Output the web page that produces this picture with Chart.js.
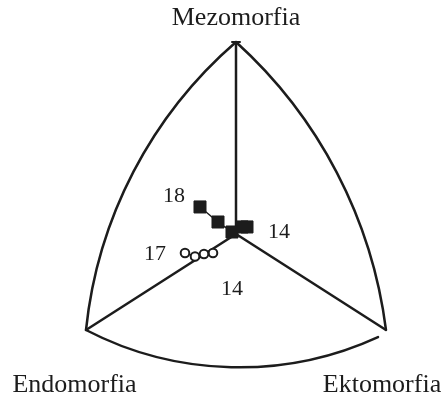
<!DOCTYPE html>
<html>
<head>
<meta charset="utf-8">
<script src="https://cdn.jsdelivr.net/npm/chart.js@4/dist/chart.umd.min.js"></script>
<style>
  html, body { margin: 0; padding: 0; background: #fff; }
  #wrap { width: 445px; height: 397px; position: relative; }
</style>
</head>
<body>
<div id="wrap"><canvas id="c"></canvas></div>
<script>
// Somatochart coordinates: X = ecto - endo, Y = 2*meso - (endo + ecto)
const axisNames = ['Mezomorfia', 'Endomorfia', 'Ektomorfia'];
const vertexMeso = { x: 0, y: 12 };
const vertexEndo = { x: -6, y: -6 };
const vertexEcto = { x: 6, y: -6 };
const origin = { x: 0, y: 0 };

// Series: squares (ages 14..18), circles (ages 14..17)
const squareAges = [14, 15, 16, 17, 18];
const squareX = [0.44, 0.24, -0.16, -0.72, -1.44];
const squareY = [0.44, 0.44, 0.125, 0.75, 1.69];

const circleAges = [14, 15, 16, 17];
const circleX = [-0.92, -1.28, -1.64, -2.04];
const circleY = [-1.19, -1.25, -1.41, -1.19];

// Boundary arcs: start, middle, end
const arcLeft = [vertexMeso, { x: -4.64, y: 2.125 }, vertexEndo];
const arcRight = [vertexMeso, { x: 4.56, y: 2.125 }, vertexEcto];
const arcBottom = [vertexEndo, { x: -0.52, y: -8.31 }, { x: 5.68, y: -6.44 }];

const toPts = (xs, ys) => xs.map((x, i) => ({ x, y: ys[i] }));

const INK = '#1c1c1c';
const FONT = '"Liberation Serif", "DejaVu Serif", serif';

function circleThrough(p1, p2, p3) {
  const ax = p1.x, ay = p1.y, bx = p2.x, by = p2.y, cx = p3.x, cy = p3.y;
  const d = 2 * (ax * (by - cy) + bx * (cy - ay) + cx * (ay - by));
  const a2 = ax * ax + ay * ay, b2 = bx * bx + by * by, c2 = cx * cx + cy * cy;
  const ux = (a2 * (by - cy) + b2 * (cy - ay) + c2 * (ay - by)) / d;
  const uy = (a2 * (cx - bx) + b2 * (ax - cx) + c2 * (bx - ax)) / d;
  return { x: ux, y: uy, r: Math.hypot(ax - ux, ay - uy) };
}
const norm = a => ((a % (2 * Math.PI)) + 2 * Math.PI) % (2 * Math.PI);

const framePlugin = {
  id: 'frame',
  beforeDatasetsDraw(chart) {
    const { ctx, scales: { x, y } } = chart;
    const px = p => ({ x: x.getPixelForValue(p.x), y: y.getPixelForValue(p.y) });
    ctx.save();
    ctx.strokeStyle = INK;
    ctx.lineWidth = 2.5;
    ctx.lineCap = 'round';
    [arcLeft, arcRight, arcBottom].forEach(arc => {
      const [p1, p2, p3] = arc.map(px);
      const c = circleThrough(p1, p2, p3);
      const a1 = Math.atan2(p1.y - c.y, p1.x - c.x);
      const am = Math.atan2(p2.y - c.y, p2.x - c.x);
      const a3 = Math.atan2(p3.y - c.y, p3.x - c.x);
      const anti = !(norm(am - a1) < norm(a3 - a1));
      ctx.beginPath();
      ctx.arc(c.x, c.y, c.r, a1, a3, anti);
      ctx.stroke();
    });
    // small cap at the top vertex
    const t = px(vertexMeso);
    ctx.lineWidth = 2;
    ctx.beginPath();
    ctx.moveTo(t.x - 4, t.y);
    ctx.lineTo(t.x + 4, t.y);
    ctx.stroke();
    ctx.restore();
  },
  afterDraw(chart) {
    const { ctx, scales: { x, y } } = chart;
    const px = p => ({ x: x.getPixelForValue(p.x), y: y.getPixelForValue(p.y) });
    ctx.save();
    ctx.fillStyle = INK;
    ctx.textAlign = 'center';
    ctx.textBaseline = 'alphabetic';
    ctx.font = '26px ' + FONT;
    const m = px(vertexMeso), en = px(vertexEndo), ek = px(vertexEcto);
    ctx.fillText(axisNames[0], m.x, m.y - 17);
    ctx.fillText(axisNames[1], en.x - 11.5, en.y + 62);
    ctx.fillText(axisNames[2], ek.x - 4, ek.y + 62);

    ctx.font = '22px ' + FONT;
    const s0 = px({ x: squareX[0], y: squareY[0] });
    const sN = px({ x: squareX[squareX.length - 1], y: squareY[squareY.length - 1] });
    const c0 = px({ x: circleX[0], y: circleY[0] });
    const cN = px({ x: circleX[circleX.length - 1], y: circleY[circleY.length - 1] });
    ctx.fillText(String(squareAges[squareAges.length - 1]), sN.x - 26, sN.y - 5);
    ctx.fillText(String(squareAges[0]), s0.x + 32, s0.y + 11);
    ctx.fillText(String(circleAges[circleAges.length - 1]), cN.x - 30, cN.y + 7);
    ctx.fillText(String(circleAges[0]), c0.x + 19, c0.y + 42);
    ctx.restore();
  }
};

const axisLine = (a, b) => ({
  type: 'line',
  data: [a, b],
  borderColor: INK,
  borderWidth: 2.5,
  pointRadius: 0,
  showLine: true,
  order: 5
});

new Chart(document.getElementById('c'), {
  type: 'scatter',
  data: {
    datasets: [
      axisLine(origin, vertexMeso),
      axisLine(origin, vertexEndo),
      axisLine(origin, vertexEcto),
      {
        label: 'squares',
        data: toPts(squareX, squareY),
        showLine: true,
        borderColor: INK,
        borderWidth: 1.5,
        pointStyle: 'rect',
        pointRadius: 8.5,
        pointBorderWidth: 1,
        pointBackgroundColor: INK,
        pointBorderColor: INK,
        order: 1
      },
      {
        label: 'circles',
        data: toPts(circleX, circleY),
        showLine: true,
        borderColor: INK,
        borderWidth: 1.5,
        pointStyle: 'circle',
        pointRadius: 4.3,
        pointBorderWidth: 2,
        pointBackgroundColor: '#ffffff',
        pointBorderColor: INK,
        order: 2
      }
    ]
  },
  options: {
    responsive: true,
    maintainAspectRatio: false,
    animation: false,
    events: [],
    layout: { padding: 0, autoPadding: false },
    plugins: { legend: { display: false }, tooltip: { enabled: false } },
    scales: {
      x: { type: 'linear', min: -9.44, max: 8.36, display: false },
      y: { type: 'linear', min: -10.1875, max: 14.625, display: false }
    }
  },
  plugins: [framePlugin]
});
</script>
</body>
</html>
